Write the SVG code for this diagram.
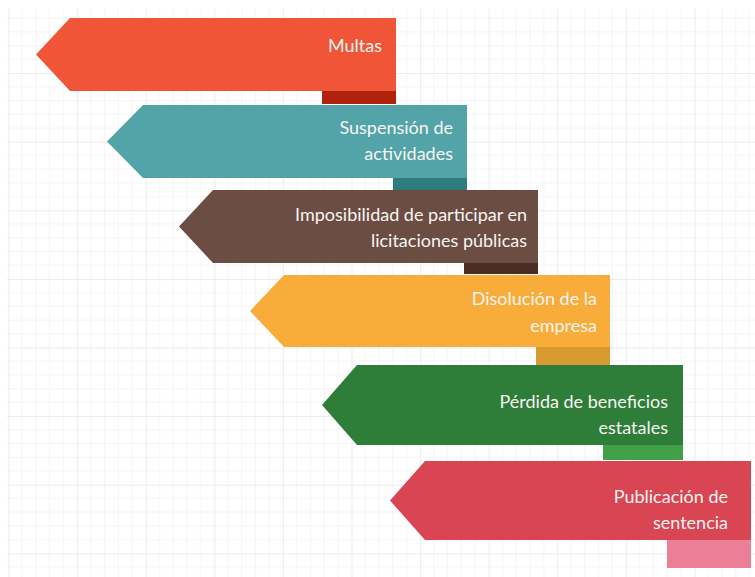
<svg xmlns="http://www.w3.org/2000/svg" width="755" height="577" viewBox="0 0 755 577">
  <defs>
    <pattern id="grid" patternUnits="userSpaceOnUse" x="8.5" y="4.5" width="68.6" height="68.6">
      <g stroke="#f4f4f4" stroke-width="1">
        <line x1="13.72" y1="0" x2="13.72" y2="68.6"/>
        <line x1="27.44" y1="0" x2="27.44" y2="68.6"/>
        <line x1="41.16" y1="0" x2="41.16" y2="68.6"/>
        <line x1="54.88" y1="0" x2="54.88" y2="68.6"/>
        <line x1="0" y1="13.72" x2="68.6" y2="13.72"/>
        <line x1="0" y1="27.44" x2="68.6" y2="27.44"/>
        <line x1="0" y1="41.16" x2="68.6" y2="41.16"/>
        <line x1="0" y1="54.88" x2="68.6" y2="54.88"/>
      </g>
      <g stroke="#e4e4e4" stroke-width="1.3">
        <line x1="0" y1="0" x2="0" y2="68.6"/>
        <line x1="0" y1="0" x2="68.6" y2="0"/>
      </g>
    </pattern>
    <style>
      .label { font-family: Lato, "Open Sans", "Liberation Sans", sans-serif; font-size: 18px; fill: #f7f4f2; text-anchor: end; }
    </style>
  </defs>

  <rect width="755" height="577" fill="#ffffff"/>
  <rect x="7" y="9" width="748" height="568" fill="url(#grid)"/>

  <g id="multas">
    <rect x="322" y="91" width="74" height="13" fill="#b0220c"/>
    <polygon points="70,18 396,18 396,91 70,91 36,54.5" fill="#f05537"/>
    <text class="label" x="382" y="52">Multas</text>
  </g>

  <g id="suspension">
    <rect x="393" y="178" width="74" height="12" fill="#2e7c7f"/>
    <polygon points="143,105 467,105 467,178 143,178 107,141.5" fill="#52a4a8"/>
    <text class="label" x="453" y="134">Suspensión de</text>
    <text class="label" x="453" y="160">actividades</text>
  </g>

  <g id="imposibilidad">
    <rect x="464" y="263" width="74" height="11" fill="#4a2e25"/>
    <polygon points="213,190 538,190 538,263 213,263 179,226.5" fill="#6b4d43"/>
    <text class="label" x="527" y="221">Imposibilidad de participar en</text>
    <text class="label" x="527" y="247">licitaciones públicas</text>
  </g>

  <g id="disolucion">
    <rect x="536" y="347" width="74" height="18" fill="#d99a30"/>
    <polygon points="284,275 610,275 610,347 284,347 250,311" fill="#f8ad3a"/>
    <text class="label" x="597" y="305">Disolución de la</text>
    <text class="label" x="597" y="332">empresa</text>
  </g>

  <g id="perdida">
    <rect x="603" y="445" width="80" height="15" fill="#43a04a"/>
    <polygon points="357,365 683,365 683,445 357,445 322,405" fill="#2e7d38"/>
    <text class="label" x="668" y="408">Pérdida de beneficios</text>
    <text class="label" x="668" y="434">estatales</text>
  </g>

  <g id="publicacion">
    <rect x="667" y="540" width="84" height="28" fill="#ec7f98"/>
    <polygon points="425,461 751,461 751,540 425,540 390,500.5" fill="#da4553"/>
    <text class="label" x="728" y="503">Publicación de</text>
    <text class="label" x="728" y="529">sentencia</text>
  </g>
</svg>
